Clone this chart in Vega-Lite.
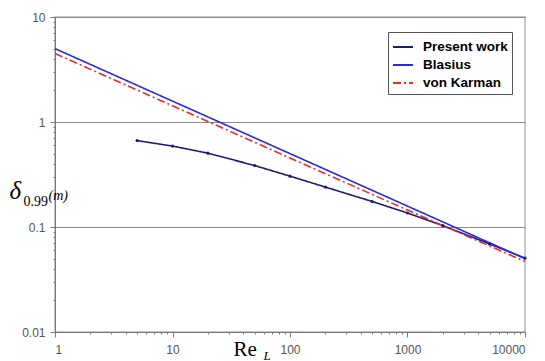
{
  "$schema": "https://vega.github.io/schema/vega-lite/v6.json",
  "width": 470,
  "height": 315,
  "autosize": {"type": "none"},
  "padding": {"left": 55, "top": 17, "right": 20, "bottom": 29},
  "background": "white",
  "config": {
    "view": {"stroke": "#b8b8b8", "strokeWidth": 1.5},
    "axis": {"labelFont": "Liberation Sans", "labelFontSize": 12, "labelColor": "#555", "domainColor": "#777", "tickColor": "#777"}
  },
  "data": {
    "values": [
      {"series": "Present work", "Re": 5, "delta": 0.665},
      {"series": "Present work", "Re": 10, "delta": 0.59},
      {"series": "Present work", "Re": 20, "delta": 0.505},
      {"series": "Present work", "Re": 50, "delta": 0.385},
      {"series": "Present work", "Re": 100, "delta": 0.305},
      {"series": "Present work", "Re": 200, "delta": 0.24},
      {"series": "Present work", "Re": 500, "delta": 0.175},
      {"series": "Present work", "Re": 1000, "delta": 0.136},
      {"series": "Present work", "Re": 2000, "delta": 0.103},
      {"series": "Present work", "Re": 5000, "delta": 0.069},
      {"series": "Present work", "Re": 10000, "delta": 0.0505},
      {"series": "Blasius", "Re": 1, "delta": 5},
      {"series": "Blasius", "Re": 10, "delta": 1.581},
      {"series": "Blasius", "Re": 100, "delta": 0.5},
      {"series": "Blasius", "Re": 1000, "delta": 0.1581},
      {"series": "Blasius", "Re": 10000, "delta": 0.05},
      {"series": "von Karman", "Re": 1, "delta": 4.5},
      {"series": "von Karman", "Re": 10, "delta": 1.43},
      {"series": "von Karman", "Re": 100, "delta": 0.455},
      {"series": "von Karman", "Re": 1000, "delta": 0.145},
      {"series": "von Karman", "Re": 10000, "delta": 0.047}
    ]
  },
  "resolve": {"axis": {"x": "independent", "y": "independent"}},
  "layer": [
    {
      "mark": {"type": "line", "strokeWidth": 1.6, "clip": true},
      "encoding": {
        "x": {
          "field": "Re", "type": "quantitative",
          "scale": {"type": "log", "domain": [1, 10000], "nice": false},
          "axis": {
            "orient": "bottom",
            "values": [1,2,3,4,5,6,7,8,9,10,20,30,40,50,60,70,80,90,100,200,300,400,500,600,700,800,900,1000,2000,3000,4000,5000,6000,7000,8000,9000,10000],
            "format": "~g",
            "labelExpr": "(datum.value==1||datum.value==10||datum.value==100||datum.value==1000||datum.value==10000) ? datum.label : ''",
            "tickSize": {"condition": {"test": "datum.value==1||datum.value==10||datum.value==100||datum.value==1000||datum.value==10000", "value": 5}, "value": 2},
            "labelPadding": 7,
            "grid": false,
            "title": "Re",
            "titleFont": "Liberation Serif", "titleFontSize": 21, "titleFontWeight": "normal", "titleColor": "black",
            "titleAngle": 0, "titleAlign": "left", "titleBaseline": "alphabetic",
            "titleX": 178, "titleY": 23
          }
        },
        "y": {
          "field": "delta", "type": "quantitative",
          "scale": {"type": "log", "domain": [0.01, 10], "nice": false},
          "axis": {
            "orient": "left",
            "values": [0.01,0.02,0.03,0.04,0.05,0.06,0.07,0.08,0.09,0.1,0.2,0.3,0.4,0.5,0.6,0.7,0.8,0.9,1,2,3,4,5,6,7,8,9,10],
            "format": "~g",
            "labelExpr": "(datum.value==0.01||datum.value==0.1||datum.value==1||datum.value==10) ? datum.label : ''",
            "tickSize": {"condition": {"test": "datum.value==0.01||datum.value==0.1||datum.value==1||datum.value==10", "value": 5}, "value": 2},
            "labelPadding": 5,
            "grid": true,
            "gridColor": "#8a8a8a",
            "gridWidth": 1.2,
            "gridOpacity": {"condition": {"test": "datum.value==0.1||datum.value==1||datum.value==10", "value": 1}, "value": 0},
            "title": "δ",
            "titleFont": "Liberation Serif", "titleFontSize": 25, "titleFontStyle": "italic", "titleFontWeight": "normal", "titleColor": "black",
            "titleAngle": 0, "titleAlign": "left", "titleBaseline": "alphabetic",
            "titleX": -46, "titleY": 181
          }
        },
        "color": {
          "field": "series", "type": "nominal",
          "scale": {"domain": ["Present work", "Blasius", "von Karman"], "range": ["#1c1c72", "#2a2ae0", "#f02a2a"]},
          "legend": {
            "title": null,
            "orient": "none", "legendX": 333, "legendY": 15,
            "fillColor": "white", "strokeColor": "#555", "padding": 4,
            "symbolType": "stroke", "symbolSize": 400, "symbolStrokeWidth": 2,
            "labelFont": "Liberation Sans", "labelFontWeight": "bold", "labelFontSize": 13.5, "labelColor": "black",
            "labelOffset": 9, "rowPadding": 0
          }
        },
        "strokeDash": {
          "field": "series", "type": "nominal",
          "scale": {"domain": ["Present work", "Blasius", "von Karman"], "range": [[1, 0], [1, 0], [8, 3, 2, 3]]},
          "legend": {
            "title": null,
            "orient": "none", "legendX": 333, "legendY": 15,
            "fillColor": "white", "strokeColor": "#555", "padding": 4,
            "symbolType": "stroke", "symbolSize": 400, "symbolStrokeWidth": 2,
            "labelFont": "Liberation Sans", "labelFontWeight": "bold", "labelFontSize": 13.5, "labelColor": "black",
            "labelOffset": 9, "rowPadding": 0
          }
        }
      }
    },
    {
      "transform": [{"filter": "datum.series == 'Present work'"}],
      "mark": {"type": "point", "filled": true, "size": 10, "color": "#1c1c72", "opacity": 1},
      "encoding": {
        "x": {
          "field": "Re", "type": "quantitative",
          "axis": {"orient": "bottom", "labels": false, "ticks": false, "domain": false, "grid": false,
            "title": "L", "titleFont": "Liberation Serif", "titleFontSize": 13, "titleFontStyle": "italic", "titleFontWeight": "normal", "titleColor": "black",
            "titleAngle": 0, "titleAlign": "left", "titleBaseline": "alphabetic", "titleX": 208, "titleY": 27}
        },
        "y": {
          "field": "delta", "type": "quantitative",
          "axis": {"orient": "left", "labels": false, "ticks": false, "domain": false, "grid": false,
            "title": "0.99", "titleFont": "Liberation Serif", "titleFontSize": 14, "titleFontWeight": "normal", "titleColor": "black",
            "titleAngle": 0, "titleAlign": "left", "titleBaseline": "alphabetic", "titleX": -32, "titleY": 188}
        }
      }
    },
    {
      "transform": [{"filter": "datum.series == 'Blasius'"}],
      "mark": {"type": "point", "opacity": 0},
      "encoding": {
        "x": {
          "field": "Re", "type": "quantitative",
          "axis": {"orient": "bottom", "labels": false, "ticks": false, "domain": false, "grid": false, "title": null}
        },
        "y": {
          "field": "delta", "type": "quantitative",
          "axis": {"orient": "left", "labels": false, "ticks": false, "domain": false, "grid": false,
            "title": "(m)", "titleFont": "Liberation Serif", "titleFontSize": 14, "titleFontStyle": "italic", "titleFontWeight": "normal", "titleColor": "black",
            "titleAngle": 0, "titleAlign": "left", "titleBaseline": "alphabetic", "titleX": -7, "titleY": 182}
        }
      }
    }
  ]
}
